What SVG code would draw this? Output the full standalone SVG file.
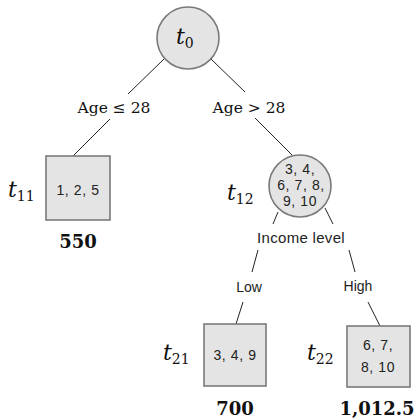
<svg xmlns="http://www.w3.org/2000/svg" width="418" height="420" viewBox="0 0 418 420">
<style>
.node{fill:#e4e4e4;stroke:#7a7a7a;stroke-width:1.6}
.edge{stroke:#222;stroke-width:1;fill:none}
.sans{font-family:"Liberation Sans",Arial,sans-serif;font-size:14px;fill:#222;text-anchor:middle;letter-spacing:0.6px}
.cond{font-family:"DejaVu Serif",serif;font-size:15.5px;fill:#111;text-anchor:middle}
.val{font-family:"DejaVu Serif",serif;font-size:18px;font-weight:bold;fill:#111;text-anchor:middle}
.tl{font-family:"DejaVu Serif",serif;font-size:22px;font-style:italic;fill:#111}
.sub{font-size:14px;font-style:normal}
</style>
<rect width="418" height="420" fill="#ffffff"/>
<g id="connectors">
<line class="edge" x1="165" y1="58" x2="128" y2="94"/>
<line class="edge" x1="110" y1="119" x2="73" y2="156"/>
<line class="edge" x1="211" y1="59" x2="245" y2="92"/>
<line class="edge" x1="255" y1="118" x2="293" y2="156"/>
<line class="edge" x1="278" y1="212" x2="273" y2="224"/>
<line class="edge" x1="325" y1="208" x2="333" y2="224"/>
<line class="edge" x1="258" y1="250" x2="252" y2="272"/>
<line class="edge" x1="349" y1="250" x2="355" y2="272"/>
<line class="edge" x1="243" y1="302" x2="236" y2="324"/>
<line class="edge" x1="368" y1="302" x2="380" y2="326"/>
</g>
<g id="t0">
<circle class="node" cx="188" cy="38" r="31"/>
<text class="tl" x="176" y="44">t<tspan class="sub" dy="4">0</tspan></text>
</g>
<g id="label-left">
<text class="cond" x="114" y="113">Age ≤ 28</text>
</g>
<g id="label-right">
<text class="cond" x="249" y="113">Age &gt; 28</text>
</g>
<g id="t11">
<rect class="node" x="46" y="156" width="64" height="64"/>
<text class="sans" x="78" y="195">1, 2, 5</text>
<text class="tl" x="8" y="197">t<tspan class="sub" dy="4">11</tspan></text>
<text class="val" x="78" y="248">550</text>
</g>
<g id="t12">
<circle class="node" cx="300" cy="186" r="31"/>
<text class="sans" x="300" y="174">3, 4,</text>
<text class="sans" x="301" y="190">6, 7, 8,</text>
<text class="sans" x="300" y="206">9, 10</text>
<text class="tl" x="227" y="200">t<tspan class="sub" dy="4">12</tspan></text>
</g>
<g id="income">
<text class="sans" x="301" y="243" style="font-size:15px;letter-spacing:0.3px">Income level</text>
</g>
<g id="low">
<text class="sans" x="249" y="292" style="letter-spacing:0">Low</text>
</g>
<g id="high">
<text class="sans" x="358" y="291" style="letter-spacing:0">High</text>
</g>
<g id="t21">
<rect class="node" x="204" y="324" width="62" height="62"/>
<text class="sans" x="235" y="360">3, 4, 9</text>
<text class="tl" x="163" y="360">t<tspan class="sub" dy="4">21</tspan></text>
<text class="val" x="235" y="415">700</text>
</g>
<g id="t22">
<rect class="node" x="347" y="326" width="63" height="61"/>
<text class="sans" x="378" y="350">6, 7,</text>
<text class="sans" x="378" y="372">8, 10</text>
<text class="tl" x="307" y="360">t<tspan class="sub" dy="4">22</tspan></text>
<text class="val" x="377" y="415">1,012.5</text>
</g>
</svg>
